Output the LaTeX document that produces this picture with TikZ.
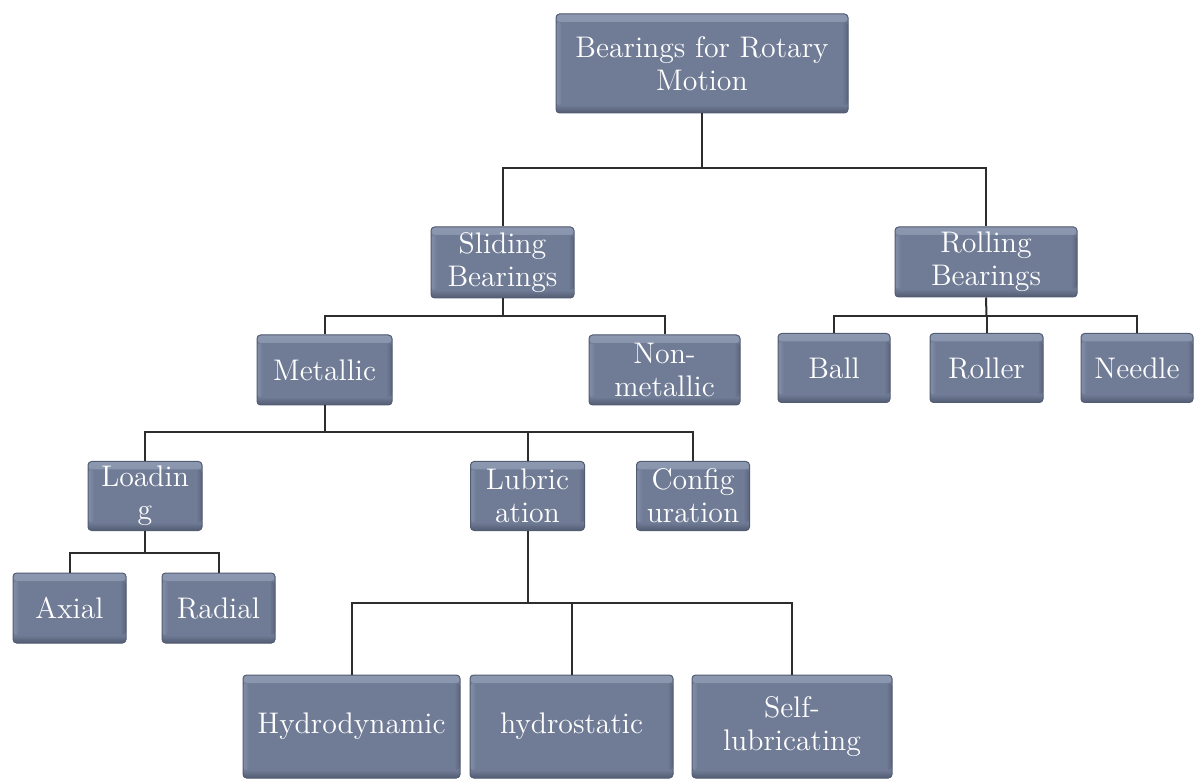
\documentclass[tikz,border=0pt]{standalone}
\usepackage{fontspec}
\definecolor{boxc}{RGB}{112,124,150}
\definecolor{boxhi}{RGB}{140,152,176}
\definecolor{boxlo}{RGB}{82,92,114}
\definecolor{linec}{RGB}{45,45,45}
\tikzset{
  bx/.style={fill=boxc, draw=boxlo, line width=0.5pt, rounded corners=1.8pt,
    text=white, align=center, inner sep=0pt,
    font=\rmfamily\fontsize{14.9}{16.4}\selectfont,
    path picture={
      \shade[top color=boxhi, bottom color=boxc] (path picture bounding box.north west) rectangle ([yshift=-4pt]path picture bounding box.north east);
      \shade[top color=boxc, bottom color=boxlo] ([yshift=4pt]path picture bounding box.south west) rectangle (path picture bounding box.south east);
      \shade[left color=boxhi!70!boxc, right color=boxc] ([yshift=-4pt]path picture bounding box.north west) rectangle ([xshift=3pt,yshift=4pt]path picture bounding box.south west);
      \shade[left color=boxc, right color=boxlo!70!boxc] ([xshift=-3pt,yshift=-4pt]path picture bounding box.north east) rectangle ([yshift=4pt]path picture bounding box.south east);
    }},
  conn/.style={draw=linec, line width=1pt}
}
\begin{document}
\begin{tikzpicture}[x=0.5pt,y=-0.5pt]
\useasboundingbox (0,0) rectangle (1194,780);
% nodes
\node[bx, minimum width=146pt, minimum height=49.5pt] (top) at (702,63.5) {Bearings for Rotary\\Motion};
\node[bx, minimum width=71.5pt, minimum height=35.5pt] (sliding) at (502.5,262.5) {Sliding\\Bearings};
\node[bx, minimum width=91pt, minimum height=35pt] (rolling) at (986,262) {Rolling\\Bearings};
\node[bx, minimum width=67.5pt, minimum height=35pt] (metallic) at (324.5,370) {Metallic};
\node[bx, minimum width=75.5pt, minimum height=35pt] (nonmet) at (664.5,370) {Non-\\metallic};
\node[bx, minimum width=56pt, minimum height=34.5pt] (ball) at (834,368) {Ball};
\node[bx, minimum width=56.5pt, minimum height=34.5pt] (roller) at (986.5,368) {Roller};
\node[bx, minimum width=56pt, minimum height=34.5pt] (needle) at (1137,368) {Needle};
\node[bx, minimum width=57pt, minimum height=34.5pt] (loading) at (145,496) {Loadin\\g};
\node[bx, minimum width=57pt, minimum height=34.5pt] (lubric) at (527.5,496) {Lubric\\ation};
\node[bx, minimum width=56.5pt, minimum height=34.5pt] (config) at (693,496) {Config\\uration};
\node[bx, minimum width=56.5pt, minimum height=35pt] (axial) at (69.5,608) {Axial};
\node[bx, minimum width=56.5pt, minimum height=35pt] (radial) at (218.5,608) {Radial};
\node[bx, minimum width=108.5pt, minimum height=51.5pt] (hydro) at (351.5,726.5) {Hydrodynamic};
\node[bx, minimum width=101.5pt, minimum height=51.5pt] (hstat) at (571.5,726.5) {hydrostatic};
\node[bx, minimum width=100pt, minimum height=51.5pt] (selfl) at (792,726.5) {Self-\\lubricating};
% junctions
\coordinate (j1) at (702,168);
\coordinate (j2) at (502.5,316);
\coordinate (j3) at (986.5,316);
\coordinate (j4) at (324.5,432);
\coordinate (j5) at (145,553);
\coordinate (j6) at (527.5,603);
% connectors
\draw[conn] (top.south) -- (j1);
\draw[conn] (sliding.north) |- (j1) -| (rolling.north);
\draw[conn] (sliding.south) -- (j2);
\draw[conn] (metallic.north) |- (j2) -| (nonmet.north);
\draw[conn] (rolling.south) -- (j3);
\draw[conn] (ball.north) |- (j3) -| (needle.north);
\draw[conn] (j3) -- (roller.north);
\draw[conn] (metallic.south) -- (j4);
\draw[conn] (loading.north) |- (j4) -| (config.north);
\draw[conn] (j4) -| (lubric.north);
\draw[conn] (loading.south) -- (j5);
\draw[conn] (axial.north) |- (j5) -| (radial.north);
\draw[conn] (lubric.south) -- (j6);
\draw[conn] (hydro.north) |- (j6) -| (selfl.north);
\draw[conn] (j6) -| (hstat.north);
\end{tikzpicture}
\end{document}
